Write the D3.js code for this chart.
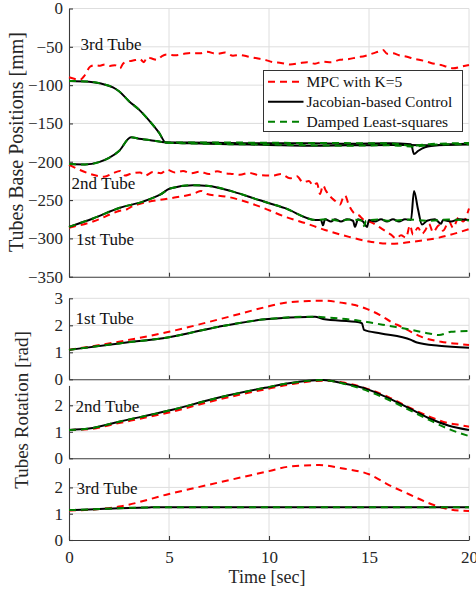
<!DOCTYPE html>
<html>
<head>
<meta charset="utf-8">
<script src="https://cdn.jsdelivr.net/npm/d3@7"></script>
<style>
body { margin: 0; background: #fff; }
svg { font-family: "Liberation Serif", "Times New Roman", serif; }
.grid line { stroke: #dedede; stroke-width: 1; }
.axis path, .axis line { stroke: #3a3a3a; stroke-width: 1.1; }
.axis text { fill: #262626; font-size: 17px; font-family: "Liberation Serif", serif; }
</style>
</head>
<body>
<svg id="chart" width="476" height="594"></svg>
<script>
// ---- data: [time (s), value] pairs ----

// Tubes base positions [mm]
const pos3Mpc = [[0,-89.8],[0.3,-92],[0.55,-93],[0.8,-86.8],[1.05,-76],[1.3,-74],[1.55,-74.6],[1.8,-73],[2.05,-75],[2.3,-74],[2.55,-78],[2.7,-72],[2.9,-69.4],[3.2,-68],[3.55,-66.3],[3.75,-70],[3.9,-63.7],[4.1,-65],[4.4,-67],[4.65,-62],[4.9,-60],[5.3,-61],[5.7,-59.4],[6.1,-58],[6.55,-58.5],[6.9,-56.5],[7.4,-59.4],[7.8,-57.5],[8.2,-61.6],[8.55,-60.7],[9,-63],[9.4,-65],[9.8,-67],[10.2,-70],[10.6,-71],[11.05,-73],[11.5,-71.5],[11.9,-70],[12.3,-72],[12.7,-69.4],[13.1,-70],[13.55,-67],[14,-66],[14.4,-63.7],[14.8,-62],[15.2,-58.5],[15.5,-56],[15.7,-54],[15.9,-59],[16.2,-58.5],[16.5,-61],[16.9,-63],[17.3,-66],[17.7,-68],[18.1,-71],[18.6,-73.7],[18.9,-76],[19.2,-78],[19.6,-76],[20,-73.7]];
const pos3Jac = [[0,-94.5],[1,-95.5],[1.6,-98],[2.2,-103],[2.5,-108],[3,-121],[3.5,-132],[4,-146],[4.5,-162],[4.85,-175],[6,-175],[8,-175.5],[10,-176],[12,-176],[14,-176.5],[16,-176],[17.1,-177],[17.25,-190],[17.45,-186],[17.8,-181],[18.5,-178],[20,-176.5]];
const pos3Dls = [[0,-94.5],[1,-95.5],[1.6,-98],[2.2,-103],[2.5,-108],[3,-121],[3.5,-132],[4,-146],[4.5,-162],[4.85,-175],[8,-175],[12,-175.5],[16,-176],[17.2,-179],[18,-177],[20,-175.5]];

const pos2Mpc = [[0,-204],[0.55,-210.8],[1.2,-217],[1.75,-219.5],[2.2,-215],[2.55,-212],[2.8,-218],[3.05,-216],[3.55,-214],[3.8,-218],[4.2,-213.5],[4.6,-215],[4.9,-210.5],[5.3,-214],[5.7,-212],[6.1,-215],[6.55,-213],[7,-216],[7.4,-212.5],[7.8,-215],[8.2,-216],[8.55,-217],[9,-214.5],[9.5,-217.5],[10.2,-218],[10.6,-216],[11.05,-221.6],[11.4,-219],[11.7,-227],[12,-225],[12.2,-231],[12.4,-228],[12.55,-242],[12.7,-231],[12.85,-238],[13.05,-245],[13.3,-251],[13.55,-256],[13.7,-247],[13.8,-244],[14,-257],[14.25,-267],[14.5,-270],[14.7,-275],[15.2,-280],[15.5,-285],[15.85,-291],[16.1,-295],[16.35,-300],[16.6,-296],[16.85,-299],[17.05,-283],[17.2,-295],[17.45,-286],[17.65,-294],[17.8,-290],[18,-281],[18.2,-292],[18.5,-283],[18.7,-290],[19,-278],[19.2,-286],[19.5,-272],[19.7,-278],[20,-261]];
const pos2Jac = [[0,-203],[0.8,-203.5],[1.5,-200.5],[2,-195],[2.5,-186],[3.1,-168],[3.5,-170],[4,-171.5],[4.85,-175],[6,-176],[8,-177],[10,-178],[12,-179],[14,-178.5],[16,-178],[18,-178.5],[20,-177.5]];
const pos2Dls = [[0,-203],[0.8,-203.5],[1.5,-200.5],[2,-195],[2.5,-186],[3.1,-168],[3.5,-170],[4,-171.5],[4.85,-175],[6,-176],[8,-177],[10,-177.5],[12,-178.5],[14,-179],[16,-178.5],[17.3,-180],[18,-178],[20,-177]];

const pos1Mpc = [[0,-286],[1.2,-278],[2.55,-264],[2.9,-262],[3.1,-259],[3.7,-254],[5.05,-247.7],[6.3,-241],[6.6,-238],[6.9,-242],[7.9,-245.6],[9.6,-259],[10.8,-271.7],[11.8,-280],[12.8,-289],[14,-298],[15,-304],[16.1,-307],[17.3,-304],[18.5,-299],[20,-288]];
const pos1Jac = [[0,-285],[1.2,-274],[2.55,-260],[3.7,-252],[4.55,-243],[5.05,-235],[6.2,-230.5],[7,-231.5],[8.2,-239],[9.5,-250],[10.8,-260.5],[12.35,-276],[12.6,-276],[12.7,-283],[12.8,-275],[13.1,-278],[13.3,-275],[13.6,-278],[13.9,-275],[14.2,-277],[14.3,-285],[14.45,-275],[14.7,-278],[14.9,-285],[15.0,-276],[15.3,-278],[15.6,-275],[15.9,-278],[16.2,-275],[16.5,-278],[16.8,-275],[17.1,-276],[17.25,-238],[17.45,-262],[17.65,-282],[17.9,-277],[18.3,-275],[18.6,-281],[18.7,-276],[19.1,-278],[19.5,-275],[20,-276]];
const pos1Dls = [[0,-285],[1.2,-274],[2.55,-260],[3.7,-252],[4.55,-243],[5.05,-235],[6.2,-230.5],[7,-231.5],[8.2,-239],[9.5,-250],[10.8,-260.5],[12.35,-276],[13,-275],[13.5,-277],[14,-275.5],[14.7,-277],[14.75,-284],[14.85,-277],[15.5,-275.5],[16,-277],[17,-275.5],[18,-277],[19,-275.5],[20,-276.5]];

// Tubes rotation [rad]
const rot1Mpc = [[0,1.09],[2.5,1.39],[5,1.76],[7.5,2.22],[9.8,2.67],[10.6,2.81],[12,2.9],[12.8,2.91],[13.6,2.84],[14.3,2.75],[14.8,2.63],[15.55,2.38],[16.1,2.13],[16.6,1.95],[17.1,1.76],[17.6,1.58],[18.6,1.39],[19.5,1.31],[20,1.27]];
const rot1Jac = [[0,1.09],[2.5,1.33],[5,1.56],[7.5,1.95],[9.8,2.22],[12.3,2.32],[12.7,2.23],[14.5,2.11],[14.65,2.07],[14.75,1.83],[15.6,1.7],[17.1,1.46],[17.4,1.36],[18.5,1.24],[20,1.17]];
const rot1Dls = [[0,1.09],[2.5,1.33],[5,1.56],[7.5,1.95],[9.8,2.22],[12.3,2.32],[12.7,2.3],[14.5,2.17],[15,2.11],[16,1.98],[17,1.85],[18,1.7],[18.5,1.64],[19.1,1.76],[20,1.79]];

const rot2Mpc = [[0,1.07],[1,1.1],[2.5,1.33],[5,1.73],[7.5,2.22],[9.8,2.6],[11,2.78],[12.7,2.93],[13.7,2.86],[15,2.6],[16,2.3],[17,1.92],[18,1.58],[19,1.32],[19.5,1.26],[20,1.19]];
const rot2Jac = [[0,1.07],[1,1.12],[2.5,1.38],[5,1.8],[7.5,2.29],[9.8,2.66],[11,2.83],[12.7,2.95],[13.7,2.83],[14.7,2.66],[15,2.58],[16,2.26],[17,1.89],[18,1.51],[19,1.23],[20,1.07]];
const rot2Dls = [[0,1.07],[1,1.12],[2.5,1.38],[5,1.8],[7.5,2.29],[9.8,2.66],[11,2.83],[12.7,2.95],[13.7,2.82],[15,2.52],[16,2.2],[17,1.83],[18,1.45],[19,1.1],[20,0.84]];

const rot3Mpc = [[0,1.12],[1,1.15],[2.5,1.27],[5,1.75],[7.5,2.19],[10,2.62],[11,2.79],[12.5,2.85],[13.7,2.72],[15,2.5],[16,2.09],[17,1.74],[18,1.4],[19,1.17],[20,1.1]];
const rot3Jac = [[0,1.14],[1,1.16],[2.5,1.21],[4,1.24],[5,1.25],[20,1.25]];
const rot3Dls = [[0,1.14],[1,1.16],[2.5,1.21],[4,1.24],[5,1.25],[20,1.25]];

const xTicks = [0, 5, 10, 15, 20];
const posTicks = [0, -50, -100, -150, -200, -250, -300, -350];
const rot1Ticks = [0, 1, 2, 3];
const rot23Ticks = [0, 1, 2];
const legendNames = ["MPC with K=5", "Jacobian-based Control", "Damped Least-squares"];

// ---- styles ----
const styles = {
    mpc: {color: "#ff0000", dash: "7,5"},
    jac: {color: "#000000", dash: null},
    dls: {color: "#008000", dash: "7,5"}
};

const svg = d3.select("#chart");
const x = d3.scaleLinear().domain([0, 20]).range([69, 469]);

function drawPanel(p) {
    const y = d3.scaleLinear().domain(p.domain).range(p.range);
    const g = svg.append("g");

    //grid
    const grid = g.append("g").classed("grid", true);
    grid.selectAll("line.gx").data(xTicks.filter(d => d > 0)).join("line")
        .attr("x1", d => x(d)).attr("x2", d => x(d))
        .attr("y1", p.range[0]).attr("y2", p.range[1]);
    grid.selectAll("line.gy").data(p.ticks.filter(d => d !== p.domain[0])).join("line")
        .attr("x1", x(0)).attr("x2", x(20))
        .attr("y1", d => y(d)).attr("y2", d => y(d));

    //axes, ticks pointing inward like matlab
    const xAxis = d3.axisBottom(x).tickValues(xTicks).tickSizeInner(-4).tickSizeOuter(0).tickPadding(11);
    if (!p.xLabels) xAxis.tickFormat("");
    g.append("g").classed("axis", true)
        .attr("transform", `translate(0,${p.range[0]})`).call(xAxis);
    g.append("g").classed("axis", true)
        .attr("transform", `translate(${x(0)},0)`)
        .call(d3.axisLeft(y).tickValues(p.ticks).tickFormat(d3.format("d"))
            .tickSizeInner(-4).tickSizeOuter(0).tickPadding(6));

    //lines
    const line = d3.line().x(d => x(d[0])).y(d => y(d[1])).curve(d3.curveMonotoneX);
    p.series.forEach(s => {
        const st = styles[s.kind];
        g.append("path").datum(s.data)
            .attr("d", line)
            .attr("fill", "none")
            .attr("stroke", st.color)
            .attr("stroke-width", 2)
            .attr("stroke-dasharray", st.dash);
    });

    //tube labels
    p.labels.forEach(l => {
        g.append("text")
            .attr("x", x(l.t)).attr("y", y(l.v))
            .attr("font-size", 17).attr("fill", "#111")
            .text(l.text);
    });
    return y;
}

drawPanel({
    domain: [-350, 0], range: [276.7, 8.5], ticks: posTicks,
    series: [
        {kind: "mpc", data: pos3Mpc}, {kind: "mpc", data: pos2Mpc}, {kind: "mpc", data: pos1Mpc},
        {kind: "jac", data: pos3Jac}, {kind: "jac", data: pos2Jac}, {kind: "jac", data: pos1Jac},
        {kind: "dls", data: pos3Dls}, {kind: "dls", data: pos2Dls}, {kind: "dls", data: pos1Dls}
    ],
    labels: [
        {text: "3rd Tube", t: 0.58, v: -54},
        {text: "2nd Tube", t: 0.13, v: -236},
        {text: "1st Tube", t: 0.35, v: -309}
    ]
});

drawPanel({
    domain: [0, 3], range: [379.3, 298.3], ticks: rot1Ticks,
    series: [{kind: "mpc", data: rot1Mpc}, {kind: "jac", data: rot1Jac}, {kind: "dls", data: rot1Dls}],
    labels: [{text: "1st Tube", t: 0.33, v: 2.04}]
});

drawPanel({
    domain: [0, 2.75], range: [458.3, 385.4], ticks: rot23Ticks,
    series: [{kind: "mpc", data: rot2Mpc}, {kind: "jac", data: rot2Jac}, {kind: "dls", data: rot2Dls}],
    labels: [{text: "2nd Tube", t: 0.33, v: 1.74}]
});

drawPanel({
    domain: [0, 2.75], range: [540, 467.7], ticks: rot23Ticks, xLabels: true,
    series: [{kind: "mpc", data: rot3Mpc}, {kind: "jac", data: rot3Jac}, {kind: "dls", data: rot3Dls}],
    labels: [{text: "3rd Tube", t: 0.38, v: 1.75}]
});

// axis titles
svg.append("text")
    .attr("transform", "translate(23,142) rotate(-90)")
    .attr("text-anchor", "middle").attr("font-size", 20).attr("fill", "#262626")
    .text("Tubes Base Positions [mm]");
svg.append("text")
    .attr("transform", "translate(28,410) rotate(-90)")
    .attr("text-anchor", "middle").attr("font-size", 19).attr("fill", "#262626")
    .text("Tubes Rotation [rad]");
svg.append("text")
    .attr("x", 267).attr("y", 583)
    .attr("text-anchor", "middle").attr("font-size", 18).attr("fill", "#262626")
    .text("Time [sec]");

// legend
const legend = svg.append("g").attr("transform", "translate(263.5,70.5)");
legend.append("rect")
    .attr("width", 199).attr("height", 61)
    .attr("fill", "#fff").attr("stroke", "#333").attr("stroke-width", 1);
["mpc", "jac", "dls"].forEach((k, i) => {
    const yy = 11.2 + i * 20;
    legend.append("line")
        .attr("x1", 4.5).attr("x2", 40).attr("y1", yy).attr("y2", yy)
        .attr("stroke", styles[k].color).attr("stroke-width", 2)
        .attr("stroke-dasharray", styles[k].dash);
    legend.append("text")
        .attr("x", 43).attr("y", yy).attr("dy", "0.35em")
        .attr("font-size", 15.5).attr("fill", "#111")
        .text(legendNames[i]);
});
</script>
</body>
</html>
